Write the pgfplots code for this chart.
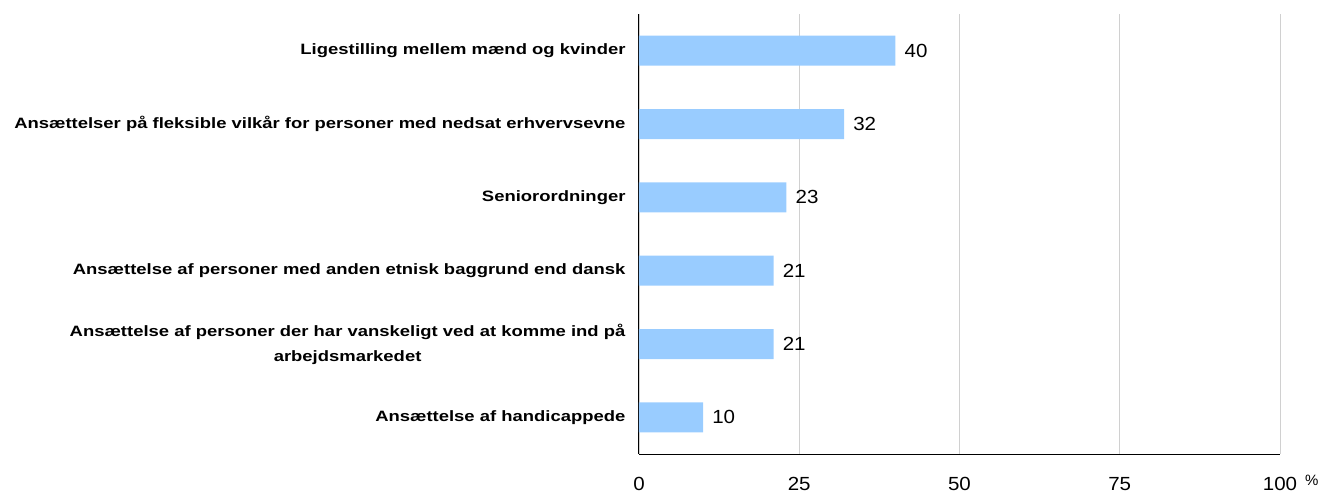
\documentclass[border=0pt]{standalone}
\usepackage{pgfplots}
\pgfplotsset{compat=1.18}
\usepackage{fontspec}
\setmainfont{Liberation Sans}
\newfontfamily\labelfont[FakeStretch=1.23]{Liberation Sans}
\newfontfamily\numfont[FakeStretch=1.08]{Liberation Sans}
\definecolor{barblue}{HTML}{99CCFF}
\definecolor{gridgray}{HTML}{D0D0D0}

\begin{document}
\begin{tikzpicture}
\begin{axis}[
    at={(0,0)}, anchor=south west,
    scale only axis,
    width=641pt, height=440pt,
    xbar,
    bar width=30pt,
    xmin=0, xmax=100,
    ymin=-0.5, ymax=5.5,
    y dir=reverse,
    axis x line*=bottom,
    axis y line*=left,
    axis line style={black, line width=1pt, -},
    xtick={0,25,50,75,100},
    ytick={0,1,2,3,4,5},
    yticklabels={
        Ligestilling mellem mænd og kvinder,
        Ansættelser på fleksible vilkår for personer med nedsat erhvervsevne,
        Seniorordninger,
        Ansættelse af personer med anden etnisk baggrund end dansk,
        {Ansættelse af personer der har vanskeligt ved at komme ind på\\arbejdsmarkedet},
        Ansættelse af handicappede
    },
    major tick length=0pt,
    xmajorgrids,
    grid style={gridgray, line width=0.8pt},
    /pgf/number format/assume math mode=true,
    xticklabel style={font=\numfont\fontsize{19}{22}\selectfont, inner sep=0pt, yshift=-23pt},
    yticklabel style={font=\labelfont\fontsize{15}{25}\selectfont\bfseries, align=center, xshift=-10pt},
    nodes near coords,
    nodes near coords style={font=\numfont\fontsize{19}{22}\selectfont, black, anchor=west, inner sep=0pt, xshift=9pt},
    point meta=explicit symbolic,
]
\addplot[fill=barblue, draw=none] coordinates {
    (40,0) [40]
    (32,1) [32]
    (23,2) [23]
    (21,3) [21]
    (21,4) [21]
    (10,5) [10]
};
\end{axis}
\node[anchor=north west, font=\fontsize{15}{17}\selectfont, inner sep=0pt] at (666pt,-21pt) {\%};
\pgfresetboundingbox
\path (-639pt,-41pt) rectangle (685pt,454pt);
\end{tikzpicture}
\end{document}
